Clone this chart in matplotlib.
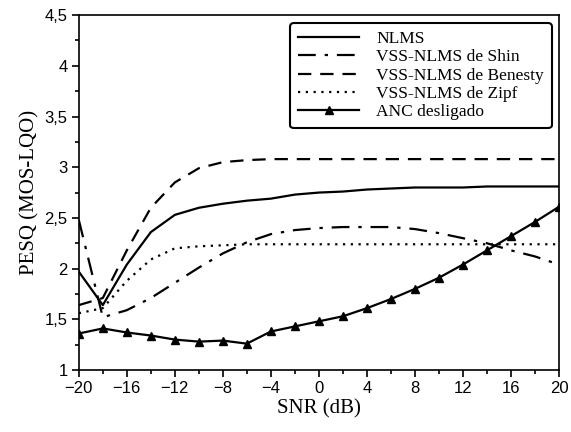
import numpy as np
import matplotlib
matplotlib.use("Agg")
import matplotlib.pyplot as plt
from matplotlib.ticker import MultipleLocator, FuncFormatter

# SNR (dB) values
snr = [-20, -18, -16, -14, -12, -10, -8, -6, -4, -2, 0,
       2, 4, 6, 8, 10, 12, 14, 16, 18, 20]

nlms = [1.97, 1.64, 2.04, 2.36, 2.53, 2.60, 2.64, 2.67, 2.69, 2.73, 2.75,
        2.76, 2.78, 2.79, 2.80, 2.80, 2.80, 2.81, 2.81, 2.81, 2.81]
shin = [2.48, 1.52, 1.59, 1.71, 1.86, 2.01, 2.15, 2.26, 2.34, 2.38, 2.40,
        2.41, 2.41, 2.41, 2.39, 2.35, 2.30, 2.25, 2.18, 2.12, 2.04]
benesty = [1.64, 1.71, 2.18, 2.60, 2.85, 2.99, 3.05, 3.07, 3.08, 3.08, 3.08,
           3.08, 3.08, 3.08, 3.08, 3.08, 3.08, 3.08, 3.08, 3.08, 3.08]
zipf = [1.56, 1.61, 1.88, 2.09, 2.20, 2.22, 2.23, 2.24, 2.24, 2.24, 2.24,
        2.24, 2.24, 2.24, 2.24, 2.24, 2.24, 2.24, 2.24, 2.24, 2.24]
anc_off = [1.36, 1.41, 1.37, 1.34, 1.30, 1.28, 1.29, 1.26, 1.38, 1.43, 1.48,
           1.53, 1.61, 1.70, 1.80, 1.91, 2.04, 2.18, 2.32, 2.46, 2.61]

labels = ["NLMS", "VSS-NLMS de Shin", "VSS-NLMS de Benesty",
          "VSS-NLMS de Zipf", "ANC desligado"]

serif = ["Liberation Serif", "DejaVu Serif"]
sans = ["Liberation Sans", "DejaVu Sans"]

fig = plt.figure(figsize=(5.71, 4.32), dpi=100)
ax = fig.add_axes([0.138, 0.1435, 0.841, 0.8215])

lw = 1.6
ax.plot(snr, nlms, color="black", linewidth=lw, linestyle="-", label=labels[0])
ax.plot(snr, shin, color="black", linewidth=lw, linestyle=(0, (8, 4, 1.5, 4)), label=labels[1])
ax.plot(snr, benesty, color="black", linewidth=lw, linestyle=(0, (6, 4)), label=labels[2])
ax.plot(snr, zipf, color="black", linewidth=lw, linestyle=(0, (1, 2.5)), label=labels[3])
ax.plot(snr, anc_off, color="black", linewidth=lw, linestyle="-", marker="^",
        markersize=6, label=labels[4])

ax.set_xlim(-20, 20)
ax.set_ylim(1, 4.5)
ax.xaxis.set_major_locator(MultipleLocator(4))
ax.xaxis.set_minor_locator(MultipleLocator(2))
ax.yaxis.set_major_locator(MultipleLocator(0.5))
ax.yaxis.set_minor_locator(MultipleLocator(0.25))
ax.yaxis.set_major_formatter(FuncFormatter(lambda v, p: ("%g" % v).replace(".", ",")))
ax.xaxis.set_major_formatter(FuncFormatter(lambda v, p: ("%d" % v).replace("-", "\u2212")))
ax.tick_params(which="both", direction="out", top=False, right=False, width=1.2)
ax.tick_params(which="major", length=5, labelsize=12, pad=3)
ax.tick_params(which="minor", length=3)
for lab in ax.get_xticklabels() + ax.get_yticklabels():
    lab.set_family(sans)
for sp in ax.spines.values():
    sp.set_linewidth(1.2)

ax.set_xlabel("SNR (dB)", family=serif, fontsize=15, labelpad=2)
ax.set_ylabel("PESQ (MOS-LQO)", family=serif, fontsize=15, labelpad=4)

leg = ax.legend(loc="upper right", prop={"family": serif, "size": 12.5},
                frameon=True, fancybox=True, edgecolor="black",
                handlelength=3.5, labelspacing=0.12, borderpad=0.45,
                handletextpad=1.0, borderaxespad=0,
                bbox_to_anchor=(0.985, 0.977))
leg.get_frame().set_linewidth(1.5)
leg.get_frame().set_alpha(1)

fig.savefig("out.png", dpi=100)
